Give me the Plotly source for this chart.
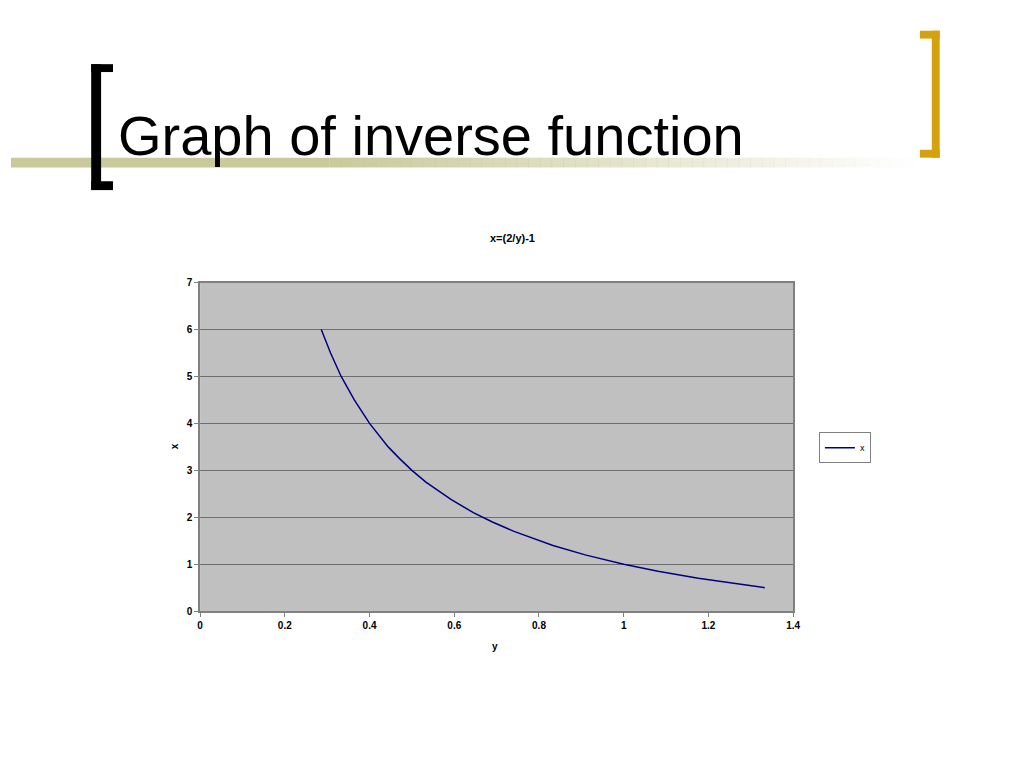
import plotly.graph_objects as go

# Data: horizontal axis "y", vertical axis "x"
y_vals = [0.286, 0.308, 0.333, 0.364, 0.400, 0.444, 0.471, 0.500, 0.533, 0.571,
          0.593, 0.645, 0.690, 0.741, 0.800, 0.833, 0.909, 1.000, 1.081, 1.176, 1.333]
x_vals = [6.0, 5.5, 5.0, 4.5, 4.0, 3.5, 3.25, 3.0, 2.75, 2.5,
          2.375, 2.1, 1.9, 1.7, 1.5, 1.4, 1.2, 1.0, 0.85, 0.7, 0.5]
series_name = "x"
chart_title = "x=(2/y)-1"
slide_title = "Graph of inverse function"
x_ticks = [0, 0.2, 0.4, 0.6, 0.8, 1, 1.2, 1.4]
y_ticks = [0, 1, 2, 3, 4, 5, 6, 7]

# The page body has an 8px margin; keep the page within the 1024x768 window
OFF = 8
W, H = 1024 - 2 * OFF, 768 - 2 * OFF - 10
def px(x):
    return (x - OFF) / W
def py(y):
    return 1 - (y - OFF) / H

FONT = "Liberation Sans, Arial, sans-serif"

fig = go.Figure()
fig.add_trace(go.Scatter(
    x=y_vals, y=x_vals, mode="lines", name=series_name,
    line=dict(color="#000080", width=1.5),
))

shapes = []
olive = "#C9C99B"
bar_y0, bar_y1 = py(164), py(154)
shapes.append(dict(type="rect", xref="paper", yref="paper", x0=0, x1=px(330),
                   y0=bar_y0, y1=bar_y1, fillcolor=olive, line=dict(width=0), layer="below"))
n = 50
start, end = 330, 920
for i in range(n):
    a = start + (end - start) * i / n
    b = start + (end - start) * (i + 1) / n
    op = 1 - (i + 0.5) / n
    shapes.append(dict(type="rect", xref="paper", yref="paper", x0=px(a), x1=px(b + 0.5),
                       y0=bar_y0, y1=bar_y1, fillcolor=olive, opacity=op,
                       line=dict(width=0), layer="below"))
# black left bracket
blk = "#000000"
shapes += [
    dict(type="rect", xref="paper", yref="paper", x0=px(89), x1=px(99), y0=py(187), y1=py(59),
         fillcolor=blk, line=dict(width=0)),
    dict(type="rect", xref="paper", yref="paper", x0=px(89), x1=px(111), y0=py(67), y1=py(59),
         fillcolor=blk, line=dict(width=0)),
    dict(type="rect", xref="paper", yref="paper", x0=px(89), x1=px(111), y0=py(187), y1=py(178),
         fillcolor=blk, line=dict(width=0)),
]
# gold right bracket
gold = "#D4A20E"
shapes += [
    dict(type="rect", xref="paper", yref="paper", x0=px(938), x1=px(946), y0=py(154), y1=py(25),
         fillcolor=gold, line=dict(width=0)),
    dict(type="rect", xref="paper", yref="paper", x0=px(926), x1=px(946), y0=py(33), y1=py(25),
         fillcolor=gold, line=dict(width=0)),
    dict(type="rect", xref="paper", yref="paper", x0=px(926), x1=px(946), y0=py(154), y1=py(146),
         fillcolor=gold, line=dict(width=0)),
]

annotations = [
    dict(text=slide_title, xref="paper", yref="paper", x=px(114), y=py(131),
         xanchor="left", yanchor="middle", showarrow=False,
         font=dict(family=FONT, size=56, color="#000000")),
    dict(text=chart_title, xref="paper", yref="paper", x=px(515), y=py(236),
         xanchor="center", yanchor="middle", showarrow=False,
         font=dict(family=FONT, size=11, color="#000000", weight="bold")),
    dict(text="y", xref="paper", yref="paper", x=px(497), y=py(651),
         xanchor="center", yanchor="middle", showarrow=False,
         font=dict(family=FONT, size=10, color="#000000", weight="bold")),
    dict(text="x", xref="paper", yref="paper", x=px(174), y=py(447),
         xanchor="center", yanchor="middle", showarrow=False, textangle=-90,
         font=dict(family=FONT, size=10, color="#000000", weight="bold")),
]

fig.update_layout(
    width=W, height=H,
    margin=dict(l=0, r=0, t=0, b=0),
    paper_bgcolor="#FFFFFF",
    plot_bgcolor="#C0C0C0",
    shapes=shapes,
    annotations=annotations,
    showlegend=True,
    legend=dict(x=px(824), y=py(449), xanchor="left", yanchor="middle",
                bgcolor="#FFFFFF", bordercolor="#808080", borderwidth=1,
                font=dict(family=FONT, size=9, color="#000000"),
                itemwidth=30, tracegroupgap=0),
    xaxis=dict(domain=[px(199), px(798)], range=[0, 1.4], tickvals=x_ticks,
               showgrid=False, zeroline=False, showline=True, mirror=True,
               linecolor="#808080", linewidth=1.5, ticks="outside", ticklen=4,
               tickcolor="#808080",
               tickfont=dict(family=FONT, size=10, color="#000000", weight="bold")),
    yaxis=dict(domain=[py(615), py(281)], range=[0, 7], tickvals=y_ticks,
               showgrid=True, gridcolor="#6E6E6E", gridwidth=1, zeroline=False,
               showline=True, mirror=True, linecolor="#808080", linewidth=1.5,
               ticks="outside", ticklen=4, tickcolor="#808080",
               tickfont=dict(family=FONT, size=10, color="#000000", weight="bold")),
)

fig.write_html("out.html")
